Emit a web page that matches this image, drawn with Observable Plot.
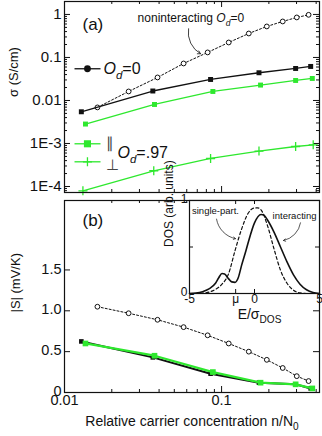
<!DOCTYPE html>
<html><head><meta charset="utf-8">
<script src="https://cdn.jsdelivr.net/npm/d3@7"></script>
<script src="https://cdn.jsdelivr.net/npm/@observablehq/plot@0.6"></script>
<style>
body{margin:0;background:#fff;}
#wrap{position:relative;width:322px;height:436px;overflow:hidden;font-family:"Liberation Sans",Arial,sans-serif;}
#wrap > div{position:absolute;}
#wrap svg{overflow:visible;}
</style></head><body>
<div id="wrap"><div id="pa" style="left:0;top:0"></div><div id="pb" style="left:0;top:196px"></div><div id="pi" style="left:150px;top:195px"></div></div>
<script>
// ---------- data ----------
const nNonint = [0.0162, 0.0256, 0.0391, 0.0573, 0.0815, 0.111, 0.149, 0.194, 0.245, 0.301, 0.358];
const sigmaNonint = [0.0069, 0.0162, 0.0343, 0.0725, 0.131, 0.223, 0.361, 0.526, 0.687, 0.852, 0.98];
const sNonint = [1.05, 0.97, 0.89, 0.80, 0.70, 0.60, 0.50, 0.40, 0.30, 0.20, 0.14];

const nOd0 = [0.0128, 0.0365, 0.0851, 0.173, 0.296, 0.369];
const sigmaOd0 = [0.00546, 0.0166, 0.0308, 0.0441, 0.0555, 0.0618];
const sOd0 = [0.625, 0.43, 0.23, 0.12, 0.10, 0.05];

const nPar = [0.0136, 0.0374, 0.088, 0.177, 0.296, 0.378];
const sigmaPar = [0.00283, 0.00807, 0.0162, 0.0228, 0.0292, 0.0325];
const sPar = [0.60, 0.45, 0.25, 0.12, 0.10, 0.05];

const nPerp = [0.0131, 0.037, 0.0851, 0.173, 0.296, 0.383];
const sigmaPerp = [7.94e-5, 2.32e-4, 4.48e-4, 6.65e-4, 8.51e-4, 9.33e-4];

const dosESingle = [-5, -4.5, -4, -3.5, -3, -2.5, -2, -1.5, -1, -0.5, 0, 0.25, 0.5, 1, 1.5, 2, 2.5, 3, 3.5, 4, 4.5, 5];
const dosSingle = [0, 0, 0.003, 0.015, 0.045, 0.10, 0.21, 0.46, 0.69, 0.86, 0.92, 0.92, 0.90, 0.73, 0.48, 0.25, 0.11, 0.035, 0.006, 0, 0, 0];
const dosEInt = [-5, -4.5, -4, -3.5, -3, -2.75, -2.5, -2.3, -2, -1.75, -1.5, -1.25, -1, -0.66, -0.5, 0, 0.5, 0.75, 1, 1.5, 2, 2.5, 3, 3.5, 4, 4.5, 5];
const dosInteracting = [0, 0.005, 0.02, 0.05, 0.11, 0.17, 0.215, 0.21, 0.16, 0.125, 0.12, 0.17, 0.30, 0.46, 0.54, 0.76, 0.85, 0.84, 0.79, 0.66, 0.50, 0.34, 0.20, 0.10, 0.04, 0.01, 0];
const muE = -1.45;

// tick values / labels
const xMajor = [0.01, 0.1];
const xMajorLabels = ["0.01", "0.1"];
const xMinor = [0.02, 0.03, 0.04, 0.05, 0.06, 0.07, 0.08, 0.09, 0.2, 0.3, 0.4];
const yAMajor = [1e-4, 1e-3, 0.01, 0.1, 1];
const yAMajorLabels = ["1E-4", "1E-3", "0.01", "0.1", "1"];
const yAMinorMultipliers = [2, 3, 4, 5, 6, 7, 8, 9];
const yBMajor = [0, 0.5, 1, 1.5];
const yBMajorLabels = ["0", "0.5", "1.0", "1.5"];
const xIMajor = [-5, muE, 0, 5];
const xIMajorLabels = ["-5", "\u03bc", "0", "5"];
const yIMajor = [0, 0.5, 1];
const yIMajorLabels = ["0", "", "1"];

// annotation anchors (data space)
const annA = {
  panel: {x: 0.01302, y: 0.576},
  nonintText: {x: 0.0292, y: 0.80},
  nonintArrow: {x1: 0.0616, y1: 0.465, x2: 0.0734, y2: 0.122},
  legendX: {x1: 0.01158, x2: 0.01695, mark: 0.0140, text: 0.01771, sym: 0.0185, od97: 0.02175},
  legendY: {od0: 0.0546, par: 9.84e-4, perp: 3.75e-4, od97: 6.08e-4, parSym: 1.0e-3, perpSym: 4.3e-4}
};
const annB = {panel: {x: 0.01302, y: 2.11}};
const annI = {
  single: {x: -3.0, y: 0.89}, inter: {x: 3.08, y: 0.83},
  singleArrow: {x1: -2.92, y1: 0.80, x2: -1.46, y2: 0.59},
  interArrow: {x1: 3.54, y1: 0.76, x2: 2.23, y2: 0.57}
};

// ---------- helpers ----------
const INK = "#111";
const GREEN = "#2ee82e";
const FONT = "'Liberation Sans', Arial, Helvetica, sans-serif";
const zip = (xs, ys) => xs.map((x, i) => ({x, y: ys[i]}));

function ticksX(vals, len, innerH) {
  return [
    Plot.tickX(vals, {x: d => d, insetTop: innerH - len, stroke: INK, strokeWidth: 1}),
    Plot.tickX(vals, {x: d => d, insetBottom: innerH - len, stroke: INK, strokeWidth: 1})
  ];
}
function ticksY(vals, len, innerW) {
  return [
    Plot.tickY(vals, {y: d => d, insetRight: innerW - len, stroke: INK, strokeWidth: 1}),
    Plot.tickY(vals, {y: d => d, insetLeft: innerW - len, stroke: INK, strokeWidth: 1})
  ];
}
const plusSymbol = {
  draw(ctx, size) {
    const r = Math.sqrt(size / Math.PI);
    ctx.moveTo(-r, 0); ctx.lineTo(r, 0);
    ctx.moveTo(0, -r); ctx.lineTo(0, r);
  }
};
function rich(root) {
  const ns = "http://www.w3.org/2000/svg";
  root.querySelectorAll("text").forEach(t => {
    const s = t.textContent;
    if (!s.includes("\u00a7")) return;
    const fs = parseFloat(getComputedStyle(t).fontSize) || 12;
    t.textContent = "";
    let shifted = 0;
    for (const seg of s.split("\u00a7")) {
      if (!seg) continue;
      let style = "", txt = seg;
      const m = seg.match(/^(i|s|is):(.*)$/);
      if (m) { style = m[1]; txt = m[2]; }
      const ts = document.createElementNS(ns, "tspan");
      ts.textContent = txt;
      const sub = style.includes("s");
      const target = sub ? fs * 0.3 : 0;
      if (target !== shifted) { ts.setAttribute("dy", (target - shifted).toFixed(2)); shifted = target; }
      if (sub) ts.setAttribute("font-size", (fs * 0.72).toFixed(1));
      if (style.includes("i")) ts.setAttribute("font-style", "italic");
      t.appendChild(ts);
    }
  });
}

// ---------- panel (a) ----------
const yAMinor = [];
for (const base of [1e-5, 1e-4, 1e-3, 0.01, 0.1, 1]) for (const k of yAMinorMultipliers) {
  const v = base * k; if (v > 7.3e-5 && v < 1.95) yAMinor.push(v);
}
const HA = 196, MTA = 1, MBA = 4, ML = 64, MR = 3, W = 322;
const innerHA = HA - MTA - MBA, innerW = W - ML - MR;

const pa = Plot.plot({
  width: W, height: HA, marginLeft: ML, marginRight: MR, marginTop: MTA, marginBottom: MBA,
  x: {type: "log", domain: [0.01, 0.42], axis: null},
  y: {type: "log", domain: [7.25e-5, 2.0], axis: null},
  style: {fontFamily: FONT, background: "transparent", color: INK, overflow: "visible"},
  marks: [
    ...ticksX(xMajor, 6, innerHA), ...ticksX(xMinor, 3, innerHA),
    ...ticksY(yAMajor, 6, innerW), ...ticksY(yAMinor, 3, innerW),
    Plot.text(yAMajor, {y: d => d, text: (d, i) => yAMajorLabels[i], frameAnchor: "left", textAnchor: "end", dx: -3, fontSize: 15, fill: INK}),
    Plot.text(["\u03c3 (S/cm)"], {frameAnchor: "left", rotate: -90, dx: -51, fontSize: 13, fill: INK}),
    // noninteracting
    Plot.line(zip(nNonint, sigmaNonint), {x: "x", y: "y", stroke: INK, strokeWidth: 1, strokeDasharray: "2,2"}),
    Plot.dot(zip(nNonint, sigmaNonint), {x: "x", y: "y", r: 2.4, stroke: INK, fill: "white", strokeWidth: 1}),
    // Od = 0
    Plot.line(zip(nOd0, sigmaOd0), {x: "x", y: "y", stroke: INK, strokeWidth: 1.3}),
    Plot.dot(zip(nOd0, sigmaOd0), {x: "x", y: "y", symbol: "square", r: 2.8, fill: INK, stroke: "none"}),
    // parallel
    Plot.line(zip(nPar, sigmaPar), {x: "x", y: "y", stroke: GREEN, strokeWidth: 1.3}),
    Plot.dot(zip(nPar, sigmaPar), {x: "x", y: "y", symbol: "square", r: 2.8, fill: GREEN, stroke: "none"}),
    // perpendicular
    Plot.line(zip(nPerp, sigmaPerp), {x: "x", y: "y", stroke: GREEN, strokeWidth: 1.3}),
    Plot.dot(zip(nPerp, sigmaPerp), {x: "x", y: "y", symbol: plusSymbol, r: 4.5, fill: "none", stroke: GREEN, strokeWidth: 1.3}),
    // legend
    Plot.link([annA.legendX], {x1: "x1", x2: "x2", y1: () => annA.legendY.od0, y2: () => annA.legendY.od0, stroke: INK, strokeWidth: 1.3}),
    Plot.dot([annA.legendX], {x: "mark", y: () => annA.legendY.od0, r: 3.4, fill: INK}),
    Plot.text(["\u00a7i:O\u00a7is:d\u00a7=0"], {x: () => annA.legendX.text, y: () => annA.legendY.od0, textAnchor: "start", fontSize: 16, fill: INK}),
    Plot.link([annA.legendX], {x1: "x1", x2: "x2", y1: () => annA.legendY.par, y2: () => annA.legendY.par, stroke: GREEN, strokeWidth: 1.3}),
    Plot.dot([annA.legendX], {x: "mark", y: () => annA.legendY.par, symbol: "square", r: 4, fill: GREEN}),
    Plot.text(["\u2225"], {x: () => annA.legendX.sym, y: () => annA.legendY.parSym, textAnchor: "start", fontSize: 15, fill: "#444"}),
    Plot.link([annA.legendX], {x1: "x1", x2: "x2", y1: () => annA.legendY.perp, y2: () => annA.legendY.perp, stroke: GREEN, strokeWidth: 1.3}),
    Plot.dot([annA.legendX], {x: "mark", y: () => annA.legendY.perp, symbol: plusSymbol, r: 4.5, fill: "none", stroke: GREEN, strokeWidth: 1.3}),
    Plot.text(["\u22a5"], {x: () => annA.legendX.sym, y: () => annA.legendY.perpSym, textAnchor: "start", lineAnchor: "top", fontSize: 15, fill: "#444"}),
    Plot.text(["\u00a7i:O\u00a7is:d\u00a7=.97"], {x: () => annA.legendX.od97, y: () => annA.legendY.od97, textAnchor: "start", fontSize: 16, fill: INK}),
    // annotations
    Plot.text(["(a)"], {x: () => annA.panel.x, y: () => annA.panel.y, textAnchor: "start", fontSize: 17, fill: INK}),
    Plot.text(["noninteracting \u00a7i:O\u00a7is:d\u00a7=0"], {x: () => annA.nonintText.x, y: () => annA.nonintText.y, textAnchor: "start", fontSize: 12, fill: INK}),
    Plot.arrow([annA.nonintArrow], {x1: "x1", y1: "y1", x2: "x2", y2: "y2", bend: -35, headLength: 6, stroke: INK, strokeWidth: 0.8}),
    Plot.frame({stroke: INK, strokeWidth: 1.2})
  ]
});
document.getElementById("pa").appendChild(pa);
rich(pa);

// ---------- panel (b) ----------
const HB = 240, MTB = 4, MBB = 44;
const innerHB = HB - MTB - MBB;
const pb = Plot.plot({
  width: W, height: HB, marginLeft: ML, marginRight: MR, marginTop: MTB, marginBottom: MBB,
  x: {type: "log", domain: [0.01, 0.42], axis: null},
  y: {domain: [0, 2.35], axis: null},
  style: {fontFamily: FONT, background: "transparent", color: INK, overflow: "visible"},
  marks: [
    ...ticksX(xMajor, 6, innerHB), ...ticksX(xMinor, 3, innerHB),
    ...ticksY(yBMajor, 6, innerW),
    Plot.text(yBMajor, {y: d => d, text: (d, i) => yBMajorLabels[i], frameAnchor: "left", textAnchor: "end", dx: -3, dy: -1, fontSize: 14.5, fill: INK}),
    Plot.text(xMajor, {x: d => d, text: (d, i) => xMajorLabels[i], frameAnchor: "bottom", dy: 12, fontSize: 14.5, fill: INK}),
    Plot.text(["|S| (mV/K)"], {frameAnchor: "left", rotate: -90, dx: -49, dy: 16, fontSize: 13, fill: INK}),
    Plot.text(["Relative carrier concentration n/N\u00a7s:0"], {frameAnchor: "bottom", dy: 33, fontSize: 14, fill: INK}),
    Plot.line(zip(nNonint, sNonint), {x: "x", y: "y", stroke: INK, strokeWidth: 1, strokeDasharray: "2,2"}),
    Plot.dot(zip(nNonint, sNonint), {x: "x", y: "y", r: 2.4, stroke: INK, fill: "white", strokeWidth: 1}),
    Plot.line(zip(nOd0, sOd0), {x: "x", y: "y", stroke: INK, strokeWidth: 2}),
    Plot.dot(zip(nOd0, sOd0), {x: "x", y: "y", symbol: "square", r: 2.6, fill: INK, stroke: "none"}),
    Plot.line(zip(nPar, sPar), {x: "x", y: "y", stroke: GREEN, strokeWidth: 2.3}),
    Plot.dot(zip(nPar, sPar), {x: "x", y: "y", symbol: "square", r: 3.2, fill: GREEN, stroke: "none"}),
    Plot.text(["(b)"], {x: () => annB.panel.x, y: () => annB.panel.y, textAnchor: "start", fontSize: 17, fill: INK}),
    Plot.frame({stroke: INK, strokeWidth: 1.2})
  ]
});
document.getElementById("pb").appendChild(pb);
rich(pb);

// ---------- inset ----------
const HI = 130, WI = 172, MLI = 39, MRI = 3, MTI = 5, MBI = 32;
const innerHI = HI - MTI - MBI, innerWI = WI - MLI - MRI;
const pi = Plot.plot({
  width: WI, height: HI, marginLeft: MLI, marginRight: MRI, marginTop: MTI, marginBottom: MBI,
  x: {domain: [-5, 5], axis: null},
  y: {domain: [0, 1], axis: null},
  style: {fontFamily: FONT, background: "transparent", color: INK, overflow: "visible"},
  marks: [
    Plot.frame({fill: "white", stroke: "none"}),
    ...ticksX(xIMajor, 4, innerHI),
    ...ticksY(yIMajor, 4, innerWI),
    Plot.text(xIMajor, {x: d => d, text: (d, i) => xIMajorLabels[i], frameAnchor: "bottom", dy: 9, fontSize: 12, fill: INK}),
    Plot.text(yIMajor, {y: d => d, text: (d, i) => yIMajorLabels[i], frameAnchor: "left", textAnchor: "end", dx: -2, dy: -1, fontSize: 12, fill: INK}),
    Plot.text(["DOS (arb. units)"], {frameAnchor: "left", rotate: -90, dx: -20, fontSize: 12, fill: INK}),
    Plot.text(["E/\u03c3\u00a7s:DOS"], {frameAnchor: "bottom", dx: 5, dy: 25, fontSize: 14, fill: INK}),
    Plot.line(zip(dosESingle, dosSingle), {x: "x", y: "y", stroke: INK, strokeWidth: 1.2, strokeDasharray: "3,2.5", curve: "monotone-x"}),
    Plot.line(zip(dosEInt, dosInteracting), {x: "x", y: "y", stroke: INK, strokeWidth: 1.6, curve: "monotone-x"}),
    Plot.text(["single-part."], {x: () => annI.single.x, y: () => annI.single.y, fontSize: 9.5, fill: INK}),
    Plot.text(["interacting"], {x: () => annI.inter.x, y: () => annI.inter.y, fontSize: 9.5, fill: INK}),
    Plot.arrow([annI.singleArrow], {x1: "x1", y1: "y1", x2: "x2", y2: "y2", bend: -35, headLength: 5, stroke: INK, strokeWidth: 0.7}),
    Plot.arrow([annI.interArrow], {x1: "x1", y1: "y1", x2: "x2", y2: "y2", bend: 35, headLength: 5, stroke: INK, strokeWidth: 0.7}),
    Plot.frame({stroke: INK, strokeWidth: 1.2})
  ]
});
document.getElementById("pi").appendChild(pi);
rich(pi);
</script>
</body></html>
